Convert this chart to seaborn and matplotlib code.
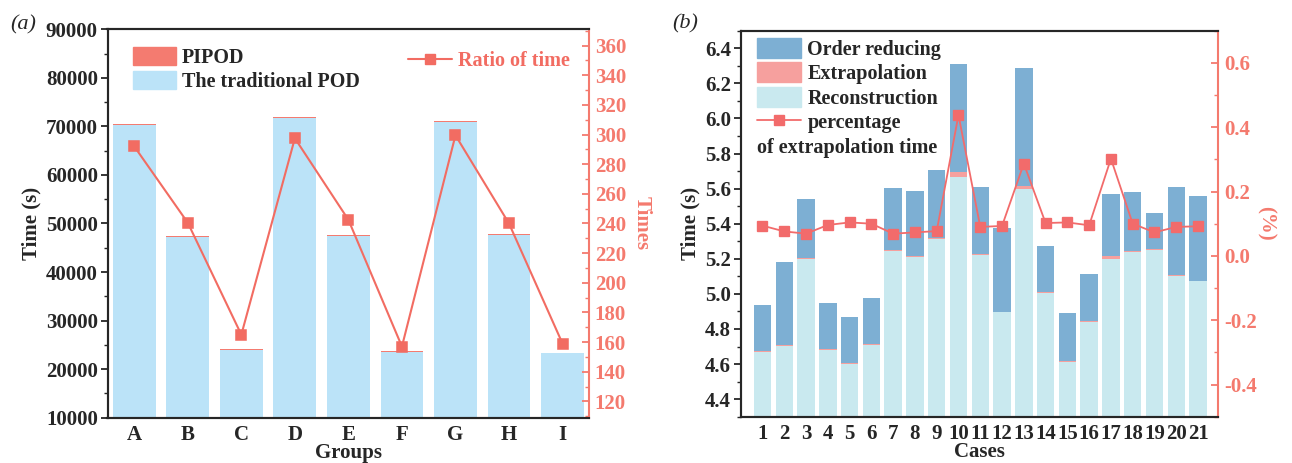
import numpy as np
import pandas as pd
import matplotlib
matplotlib.use("Agg")
import matplotlib.pyplot as plt
import seaborn as sns
from matplotlib.patches import Patch
from matplotlib.lines import Line2D
from matplotlib.ticker import MultipleLocator

# ---------------- data: panel (a) ----------------
groups = ["A", "B", "C", "D", "E", "F", "G", "H", "I"]
traditional_pod = [70260, 47170, 23950, 71630, 47370, 23540, 70940, 47600, 23250]
pipod = [241, 197, 146, 241, 196, 151, 238, 199, 147]
ratio_of_time = [292, 240.5, 165, 297.5, 242.5, 157, 299.5, 240, 159]

# ---------------- data: panel (b) ----------------
cases = [str(i) for i in range(1, 22)]
reconstruction = [4.668, 4.703, 5.201, 4.681, 4.600, 4.708, 5.247, 5.212, 5.313, 5.665,
                  5.220, 4.894, 5.595, 5.007, 4.613, 4.840, 5.201, 5.239, 5.252, 5.102, 5.071]
extrapolation = [0.005, 0.004, 0.004, 0.005, 0.005, 0.005, 0.004, 0.004, 0.004, 0.028,
                 0.005, 0.005, 0.018, 0.005, 0.005, 0.005, 0.017, 0.006, 0.004, 0.005, 0.005]
order_reducing = [0.265, 0.475, 0.335, 0.262, 0.263, 0.264, 0.351, 0.369, 0.388, 0.619,
                  0.387, 0.475, 0.673, 0.261, 0.275, 0.270, 0.354, 0.337, 0.206, 0.503, 0.483]
percentage = [0.094, 0.076, 0.069, 0.096, 0.104, 0.100, 0.069, 0.073, 0.077, 0.438,
              0.090, 0.093, 0.287, 0.102, 0.104, 0.095, 0.302, 0.100, 0.073, 0.090, 0.092]

# ---------------- style ----------------
sns.set_style("ticks")
plt.rcParams["font.family"] = ["Liberation Serif", "DejaVu Serif"]
plt.rcParams["font.weight"] = "bold"
plt.rcParams["axes.labelweight"] = "bold"
plt.rcParams["axes.linewidth"] = 1.5
plt.rcParams["axes.unicode_minus"] = False

TICK = 15
LAB = 15
LEG = 14.5

c_trad = "#BBE3F8"
c_pipod = "#F47B70"
c_line_a = "#F26C62"
c_order = "#7DAFD3"
c_extra = "#F6A09E"
c_recon = "#C9E9EF"
c_line_b = "#F26B6B"
c_axis_r = "#F47A6E"

W, H = 1292, 463
fig = plt.figure(figsize=(W / 100, H / 100), dpi=100)

def frac(x0, y0, x1, y1):
    return [x0 / W, 1 - y1 / H, (x1 - x0) / W, (y1 - y0) / H]

# ================= panel (a) =================
ax1 = fig.add_axes(frac(107.5, 29.3, 589.3, 417.7))
df1 = pd.DataFrame({"Groups": groups, "trad": traditional_pod, "pipod": pipod,
                    "ratio": ratio_of_time})
df1["total"] = df1["trad"] + df1["pipod"]
sns.barplot(data=df1, x="Groups", y="total", color=c_pipod, saturation=1, width=0.8,
            linewidth=0, ax=ax1)
sns.barplot(data=df1, x="Groups", y="trad", color=c_trad, saturation=1, width=0.8,
            linewidth=0, ax=ax1)
ax1.set_ylim(10000, 90000)
ax1.yaxis.set_major_locator(MultipleLocator(10000))
ax1.yaxis.set_minor_locator(MultipleLocator(5000))
ax1.set_ylabel("Time (s)", fontsize=LAB, labelpad=3)
ax1.set_xlabel("Groups", fontsize=LAB, labelpad=-1)
ax1.tick_params(axis="y", which="major", direction="out", length=5, width=1.3, labelsize=TICK, pad=2)
ax1.tick_params(axis="y", which="minor", direction="out", length=3, width=1.0)
ax1.tick_params(axis="x", direction="in", length=6, width=1.3, labelsize=TICK, pad=5)
ax1.spines["right"].set_visible(False)

ax1r = ax1.twinx()
sns.pointplot(data=df1, x="Groups", y="ratio", color=c_line_a, markers="s", linestyles="-",
              markersize=7, linewidth=1.5, errorbar=None, ax=ax1r)
ax1r.set_ylim(109, 371)
ax1r.yaxis.set_major_locator(MultipleLocator(20))
ax1r.yaxis.set_minor_locator(MultipleLocator(10))
ax1r.tick_params(axis="y", which="major", direction="in", length=5, width=1.3,
                 colors=c_axis_r, labelsize=TICK, pad=4)
ax1r.tick_params(axis="y", which="minor", direction="in", length=3, width=1.0, colors=c_axis_r)
ax1r.spines["right"].set_color(c_axis_r)
ax1r.spines["right"].set_linewidth(1.5)
ax1r.set_ylabel("Times", color=c_axis_r, fontsize=LAB, rotation=270, labelpad=18)
ax1.set_xlim(-0.5, 8.5)

ax1.legend([Patch(color=c_pipod), Patch(color=c_trad)], ["PIPOD", "The traditional POD"],
           loc="upper left", bbox_to_anchor=(0.053, 0.955), frameon=False,
           borderpad=0, borderaxespad=0, handlelength=2.15, handleheight=1.0,
           labelspacing=0.17, handletextpad=0.28, prop=dict(size=LEG, weight="bold"))
ax1r.legend([Line2D([], [], color=c_line_a, marker="s", markersize=7, lw=1.5)], ["Ratio of time"],
            loc="center right", bbox_to_anchor=(0.96, 0.918), frameon=False, borderpad=0,
            borderaxespad=0, handlelength=2.2, handletextpad=0.3, labelcolor=c_line_a,
            prop=dict(size=LEG, weight="bold"))

# ================= panel (b) =================
ax2 = fig.add_axes(frac(740.7, 30.7, 1218.3, 416.7))
df2 = pd.DataFrame({"Cases": cases, "recon": reconstruction, "extra": extrapolation,
                    "order": order_reducing, "pct": percentage})
df2["lvl2"] = df2["recon"] + df2["extra"]
df2["lvl3"] = df2["lvl2"] + df2["order"]
sns.barplot(data=df2, x="Cases", y="lvl3", color=c_order, saturation=1, width=0.8,
            linewidth=0, ax=ax2)
sns.barplot(data=df2, x="Cases", y="lvl2", color=c_extra, saturation=1, width=0.8,
            linewidth=0, ax=ax2)
sns.barplot(data=df2, x="Cases", y="recon", color=c_recon, saturation=1, width=0.8,
            linewidth=0, ax=ax2)
ax2.set_ylim(4.3, 6.5)
ax2.yaxis.set_major_locator(MultipleLocator(0.2))
ax2.yaxis.set_minor_locator(MultipleLocator(0.1))
ax2.set_ylabel("Time (s)", fontsize=LAB, labelpad=3)
ax2.set_xlabel("Cases", fontsize=LAB, labelpad=-1)
ax2.tick_params(axis="y", which="major", direction="out", length=5, width=1.3, labelsize=TICK, pad=2)
ax2.tick_params(axis="y", which="minor", direction="out", length=3, width=1.0)
ax2.tick_params(axis="x", direction="in", length=6, width=1.3, labelsize=TICK, pad=5)
ax2.spines["right"].set_visible(False)

ax2r = ax2.twinx()
sns.pointplot(data=df2, x="Cases", y="pct", color=c_line_b, markers="s", linestyles="-",
              markersize=6.5, linewidth=1.3, errorbar=None, ax=ax2r)
ax2r.set_ylim(-0.5, 0.7)
ax2r.yaxis.set_major_locator(MultipleLocator(0.2))
ax2r.yaxis.set_minor_locator(MultipleLocator(0.1))
ax2r.tick_params(axis="y", which="major", direction="in", length=5, width=1.3,
                 colors=c_axis_r, labelsize=TICK, pad=4)
ax2r.tick_params(axis="y", which="minor", direction="in", length=3, width=1.0, colors=c_axis_r)
ax2r.spines["right"].set_color(c_axis_r)
ax2r.spines["right"].set_linewidth(1.5)
ax2r.set_ylabel("(%)", color=c_axis_r, fontsize=LAB, rotation=270, labelpad=14)
ax2.set_xlim(-1, 20.93)

ax2.legend([Patch(color=c_order), Patch(color=c_extra), Patch(color=c_recon),
            Line2D([], [], color=c_line_b, marker="s", markersize=6.5, lw=1.3)],
           ["Order reducing", "Extrapolation", "Reconstruction", "percentage"],
           loc="upper left", bbox_to_anchor=(0.034, 0.981), frameon=False, borderpad=0,
           borderaxespad=0, handlelength=2.2, handleheight=1.12, labelspacing=0.14,
           handletextpad=0.3, prop=dict(size=LEG, weight="bold"))
ax2.text(0.034, 0.696, "of extrapolation time", transform=ax2.transAxes, ha="left",
         va="center", fontsize=LEG, fontweight="bold")

fig.text(10 / W, 1 - 25 / H, "(a)", fontsize=16, style="italic", fontweight="normal", va="center")
fig.text(672 / W, 1 - 24 / H, "(b)", fontsize=16, style="italic", fontweight="normal", va="center")

fig.savefig("out.png", dpi=100)
